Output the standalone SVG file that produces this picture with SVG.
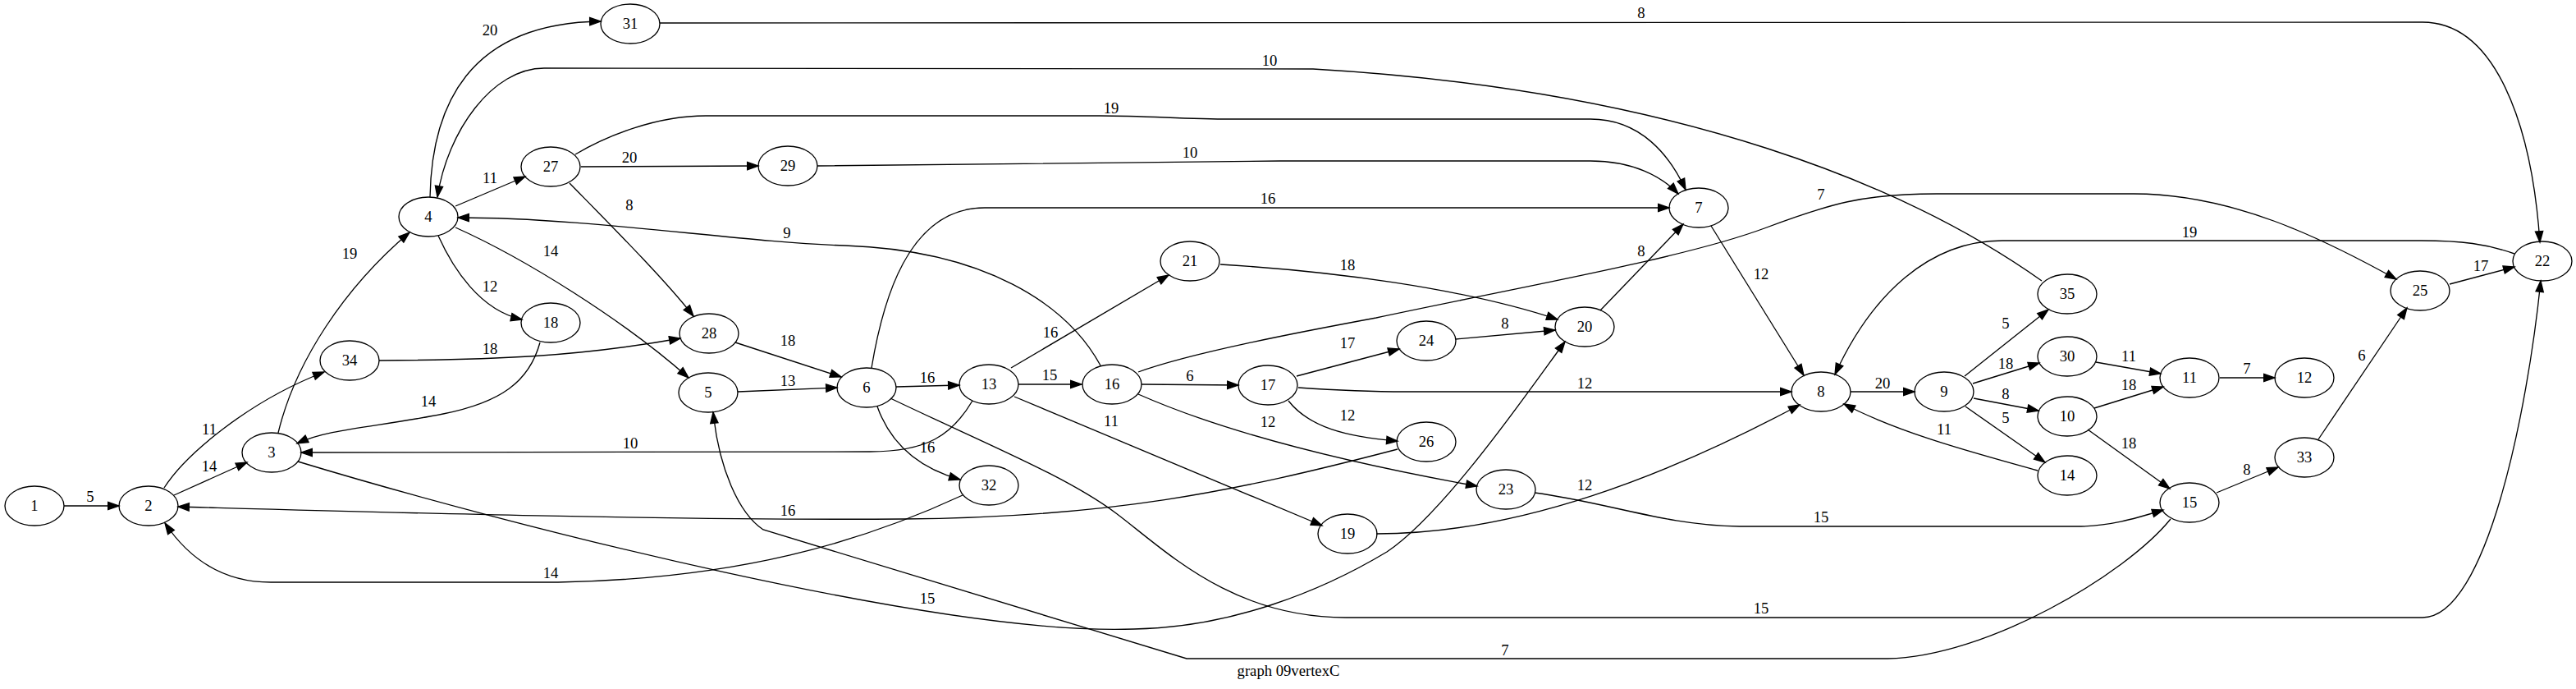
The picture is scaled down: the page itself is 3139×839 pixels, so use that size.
<svg xmlns="http://www.w3.org/2000/svg" width="3139" height="839" viewBox="0 0 3139 839">
<style>
.e{fill:none;stroke:#000;stroke-width:1.33;marker-end:url(#arr)}
.n ellipse{fill:none;stroke:#000;stroke-width:1.33}
text{font-family:"Liberation Serif","Times New Roman",serif;font-size:18.67px;text-anchor:middle;fill:#000}
</style>
<defs>
<marker id="arr" markerUnits="userSpaceOnUse" markerWidth="13.33" markerHeight="9.33" refX="13.33" refY="4.67" orient="auto" viewBox="0 0 13.33 9.33" overflow="visible">
<path d="M0,0 L13.33,4.67 L0,9.33 z" fill="#000" stroke="#000" stroke-width="1.33"/>
</marker>
</defs>
<rect width="3139" height="839" fill="#fff"/>
<g id="connectors">
<path class="e" d="M78,616 L145,616"/><text x="110" y="611">5</text>
<path class="e" d="M212,603 L301,563"/><text x="255" y="574">14</text>
<path class="e" d="M200,594 C225,555 300,490 395,453"/><text x="255" y="529">11</text>
<path class="e" d="M339,527 C360,440 420,350 499,283"/><text x="426" y="315">19</text>
<path class="e" d="M363,562 C620,640 1150,775 1382,766 C1500,764 1610,720 1690,672 C1760,625 1860,480 1907,416"/><text x="1130" y="735">15</text>
<path class="e" d="M555,251 L640,215"/><text x="597" y="223">11</text>
<path class="e" d="M524,240 C526,130 570,28 732,26"/><text x="597" y="43">20</text>
<path class="e" d="M534,287 C552,327 585,378 636,389"/><text x="597" y="355">12</text>
<path class="e" d="M555,277 C640,315 760,390 839,460"/><text x="671" y="312">14</text>
<path class="e" d="M2488,342 C2330,230 2050,110 1600,84 L663,83 C600,83 545,160 533,240"/><text x="1547" y="80">10</text>
<path class="e" d="M708,203 L924,202"/><text x="767" y="198">20</text>
<path class="e" d="M701,188 C740,165 800,141 860,141 L1340,141 C1400,141 1440,145 1500,145 L1938,145 C2000,145 2035,190 2054,231"/><text x="1354" y="138">19</text>
<path class="e" d="M694,223 C740,270 810,340 845,385"/><text x="767" y="256">8</text>
<path class="e" d="M996,202 L1560,196 L1938,196 C1990,196 2025,215 2045,236"/><text x="1450" y="192">10</text>
<path class="e" d="M1062,448 C1075,370 1105,253 1200,253 L2034,253"/><text x="1545" y="248">16</text>
<path class="e" d="M658,417 C645,465 610,490 540,504 C460,520 400,522 362,540"/><text x="522" y="495">14</text>
<path class="e" d="M462,439 C600,438 700,435 829,412"/><text x="597" y="431">18</text>
<path class="e" d="M896,417 L1025,459"/><text x="960" y="421">18</text>
<path class="e" d="M899,477 L1020,472"/><text x="960" y="470">13</text>
<path class="e" d="M1092,471 L1169,469"/><text x="1130" y="466">16</text>
<path class="e" d="M1069,495 C1085,540 1120,570 1170,584"/><text x="1130" y="551">16</text>
<path class="e" d="M1085,485 C1200,540 1300,580 1360,625 C1420,670 1500,752 1640,752 L2952,752 C3030,752 3080,500 3096,342"/><text x="2146" y="747">15</text>
<path class="e" d="M1241,468 L1318,468"/><text x="1279" y="463">15</text>
<path class="e" d="M1232,448 L1424,335"/><text x="1280" y="411">16</text>
<path class="e" d="M1185,488 C1160,530 1130,550 1060,550 L367,551"/><text x="768" y="546">10</text>
<path class="e" d="M1236,483 L1611,640"/><text x="1354" y="519">11</text>
<path class="e" d="M1341,445 C1300,370 1200,305 1030,299 C900,295 720,265 558,265"/><text x="959" y="290">9</text>
<path class="e" d="M1391,468 L1509,469"/><text x="1450" y="464">6</text>
<path class="e" d="M1387,453 C1450,430 1580,405 1677,387 C1850,350 2050,315 2150,278 C2230,248 2270,236 2360,236 L2600,236 C2720,236 2830,290 2920,340"/><text x="2219" y="243">7</text>
<path class="e" d="M1387,480 C1500,530 1650,565 1800,592"/><text x="1545" y="520">12</text>
<path class="e" d="M1580,458 L1705,425"/><text x="1642" y="424">17</text>
<path class="e" d="M1582,472 C1640,476 1680,477 1713,477 L2183,477"/><text x="1931" y="473">12</text>
<path class="e" d="M1570,488 C1595,520 1640,532 1703,537"/><text x="1642" y="512">12</text>
<path class="e" d="M1703,547 C1500,600 1350,630 1100,632 C800,634 400,622 217,617"/><text x="960" y="628">16</text>
<path class="e" d="M1173,603 C1050,660 900,705 680,709 L330,709 C270,709 230,680 201,637"/><text x="671" y="704">14</text>
<path class="e" d="M1487,322 C1620,330 1780,350 1898,389"/><text x="1642" y="329">18</text>
<path class="e" d="M1774,413 L1895,402"/><text x="1834" y="400">8</text>
<path class="e" d="M1950,378 L2051,273"/><text x="2000" y="312">8</text>
<path class="e" d="M2085,275 L2198,457"/><text x="2146" y="340">12</text>
<path class="e" d="M1677,650 C1850,650 2030,580 2193,493"/><text x="1931" y="597">12</text>
<path class="e" d="M1870,600 C1960,612 2030,640 2120,641 L2530,641 C2570,641 2600,632 2636,621"/><text x="2219" y="636">15</text>
<path class="e" d="M3064,309 C3030,297 3000,293 2950,293 L2440,293 C2350,293 2280,360 2236,456"/><text x="2668" y="289">19</text>
<path class="e" d="M2255,477 L2333,477"/><text x="2294" y="473">20</text>
<path class="e" d="M2394,458 L2496,377"/><text x="2444" y="400">5</text>
<path class="e" d="M2404,467 L2485,442"/><text x="2444" y="449">18</text>
<path class="e" d="M2405,485 L2484,500"/><text x="2444" y="486">8</text>
<path class="e" d="M2395,495 L2492,563"/><text x="2444" y="515">5</text>
<path class="e" d="M2483,573 C2420,555 2320,530 2247,492"/><text x="2369" y="529">11</text>
<path class="e" d="M2554,441 L2633,455"/><text x="2594" y="440">11</text>
<path class="e" d="M2552,497 L2636,471"/><text x="2594" y="475">18</text>
<path class="e" d="M2544,523 L2644,595"/><text x="2594" y="546">18</text>
<path class="e" d="M2705,460 L2772,460"/><text x="2738" y="455">7</text>
<path class="e" d="M2701,600 L2776,569"/><text x="2738" y="578">8</text>
<path class="e" d="M2645,632 C2590,700 2420,800 2300,802 L1446,802 L930,645 C900,625 876,570 869,502"/><text x="1834" y="798">7</text>
<path class="e" d="M2825,535 L2933,375"/><text x="2878" y="439">6</text>
<path class="e" d="M2985,346 L3064,325"/><text x="3023" y="330">17</text>
<path class="e" d="M804,28 L2952,27 C3040,27 3085,150 3095,295"/><text x="2000" y="22">8</text>
</g>
<g id="node1" class="n"><ellipse cx="42" cy="616" rx="36" ry="24"/><text x="42" y="622">1</text></g>
<g id="node2" class="n"><ellipse cx="181" cy="616" rx="36" ry="24"/><text x="181" y="622">2</text></g>
<g id="node3" class="n"><ellipse cx="331" cy="551" rx="36" ry="24"/><text x="331" y="557">3</text></g>
<g id="node34" class="n"><ellipse cx="426" cy="439" rx="36" ry="24"/><text x="426" y="445">34</text></g>
<g id="node4" class="n"><ellipse cx="522" cy="264" rx="36" ry="24"/><text x="522" y="270">4</text></g>
<g id="node27" class="n"><ellipse cx="671" cy="203" rx="36" ry="24"/><text x="671" y="209">27</text></g>
<g id="node18" class="n"><ellipse cx="671" cy="393" rx="36" ry="24"/><text x="671" y="399">18</text></g>
<g id="node31" class="n"><ellipse cx="768" cy="29" rx="36" ry="24"/><text x="768" y="35">31</text></g>
<g id="node28" class="n"><ellipse cx="864" cy="406" rx="36" ry="24"/><text x="864" y="412">28</text></g>
<g id="node5" class="n"><ellipse cx="863" cy="478" rx="36" ry="24"/><text x="863" y="484">5</text></g>
<g id="node29" class="n"><ellipse cx="960" cy="202" rx="36" ry="24"/><text x="960" y="208">29</text></g>
<g id="node6" class="n"><ellipse cx="1056" cy="472" rx="36" ry="24"/><text x="1056" y="478">6</text></g>
<g id="node13" class="n"><ellipse cx="1205" cy="468" rx="36" ry="24"/><text x="1205" y="474">13</text></g>
<g id="node32" class="n"><ellipse cx="1205" cy="591" rx="36" ry="24"/><text x="1205" y="597">32</text></g>
<g id="node16" class="n"><ellipse cx="1355" cy="468" rx="36" ry="24"/><text x="1355" y="474">16</text></g>
<g id="node21" class="n"><ellipse cx="1450" cy="318" rx="36" ry="24"/><text x="1450" y="324">21</text></g>
<g id="node17" class="n"><ellipse cx="1545" cy="469" rx="36" ry="24"/><text x="1545" y="475">17</text></g>
<g id="node19" class="n"><ellipse cx="1642" cy="650" rx="36" ry="24"/><text x="1642" y="656">19</text></g>
<g id="node24" class="n"><ellipse cx="1738" cy="415" rx="36" ry="24"/><text x="1738" y="421">24</text></g>
<g id="node26" class="n"><ellipse cx="1738" cy="538" rx="36" ry="24"/><text x="1738" y="544">26</text></g>
<g id="node23" class="n"><ellipse cx="1835" cy="596" rx="36" ry="24"/><text x="1835" y="602">23</text></g>
<g id="node20" class="n"><ellipse cx="1931" cy="398" rx="36" ry="24"/><text x="1931" y="404">20</text></g>
<g id="node7" class="n"><ellipse cx="2070" cy="253" rx="36" ry="24"/><text x="2070" y="259">7</text></g>
<g id="node8" class="n"><ellipse cx="2219" cy="477" rx="36" ry="24"/><text x="2219" y="483">8</text></g>
<g id="node9" class="n"><ellipse cx="2369" cy="477" rx="36" ry="24"/><text x="2369" y="483">9</text></g>
<g id="node35" class="n"><ellipse cx="2519" cy="358" rx="36" ry="24"/><text x="2519" y="364">35</text></g>
<g id="node30" class="n"><ellipse cx="2519" cy="434" rx="36" ry="24"/><text x="2519" y="440">30</text></g>
<g id="node10" class="n"><ellipse cx="2519" cy="507" rx="36" ry="24"/><text x="2519" y="513">10</text></g>
<g id="node14" class="n"><ellipse cx="2519" cy="579" rx="36" ry="24"/><text x="2519" y="585">14</text></g>
<g id="node11" class="n"><ellipse cx="2668" cy="460" rx="36" ry="24"/><text x="2668" y="466">11</text></g>
<g id="node15" class="n"><ellipse cx="2668" cy="612" rx="36" ry="24"/><text x="2668" y="618">15</text></g>
<g id="node12" class="n"><ellipse cx="2808" cy="460" rx="36" ry="24"/><text x="2808" y="466">12</text></g>
<g id="node33" class="n"><ellipse cx="2808" cy="557" rx="36" ry="24"/><text x="2808" y="563">33</text></g>
<g id="node25" class="n"><ellipse cx="2949" cy="354" rx="36" ry="24"/><text x="2949" y="360">25</text></g>
<g id="node22" class="n"><ellipse cx="3098" cy="318" rx="36" ry="24"/><text x="3098" y="324">22</text></g>
<text x="1570" y="823">graph 09vertexC</text>
</svg>
